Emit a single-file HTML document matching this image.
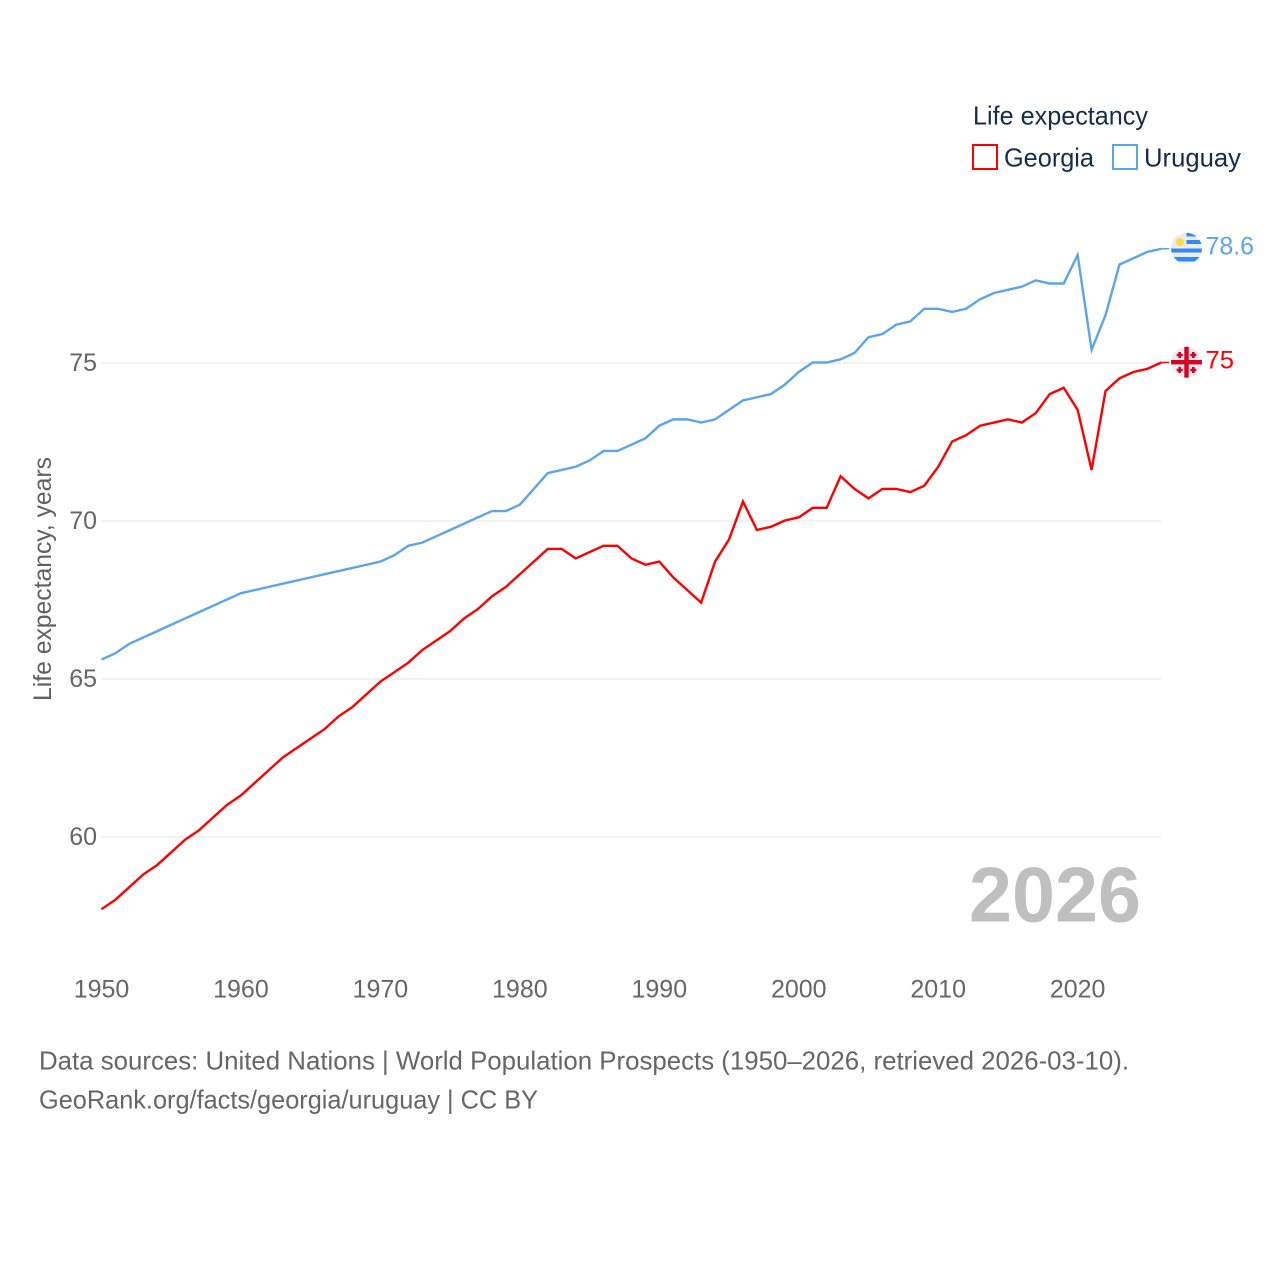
<!DOCTYPE html>
<html lang="en">
<head>
<meta charset="utf-8">
<title>Life expectancy: Georgia and Uruguay</title>
<style>
html,body{margin:0;padding:0;background:#fff;width:1280px;height:1280px;overflow:hidden}
svg{display:block}
text{font-family:"Liberation Sans",sans-serif}
</style>
</head>
<body>
<svg id="chart" xmlns="http://www.w3.org/2000/svg" width="1280" height="1280" viewBox="0 0 1280 1280">
  <defs>
    <clipPath id="flag-clip-uy"><circle cx="1186.5" cy="248.3" r="15.5"/></clipPath>
    <clipPath id="flag-clip-ge"><circle cx="1186.5" cy="362.3" r="15.5"/></clipPath>
  </defs>
  <g id="grid"></g>
  <g id="yticks"></g>
  <g id="xticks"></g>
  <text transform="translate(51 701) rotate(-90)" font-size="25" fill="#616161" textLength="244" lengthAdjust="spacingAndGlyphs">Life expectancy, years</text>
  <g id="series" transform="translate(0 -0.5)"></g>

  <g>
    <text x="973" y="124.5" font-size="26" fill="#152c4d" textLength="175" lengthAdjust="spacingAndGlyphs">Life expectancy</text>
    <rect x="973" y="145" width="24" height="24" fill="#fff" stroke="#ff0000" stroke-width="2"/>
    <text x="1004" y="166.5" font-size="26" fill="#152c4d" textLength="90" lengthAdjust="spacingAndGlyphs">Georgia</text>
    <rect x="1113" y="145" width="24" height="24" fill="#fff" stroke="#5ba4ee" stroke-width="2"/>
    <text x="1144" y="166.5" font-size="26" fill="#152c4d" textLength="97" lengthAdjust="spacingAndGlyphs">Uruguay</text>
  </g>

  <g clip-path="url(#flag-clip-uy)">
    <rect x="1170" y="232" width="33" height="33" fill="#ececec"/>
    <rect x="1186.5" y="232" width="17" height="4.5" fill="#338af3"/>
    <rect x="1186.5" y="240" width="17" height="4" fill="#338af3"/>
    <rect x="1170" y="248.5" width="33" height="4" fill="#338af3"/>
    <rect x="1170" y="257" width="33" height="4.5" fill="#338af3"/>
    <circle cx="1180" cy="242" r="4" fill="#ffda44"/>
  </g>
  <g clip-path="url(#flag-clip-ge)">
    <rect x="1170" y="346" width="33" height="33" fill="#ececec"/>
    <rect x="1184.3" y="346" width="4.4" height="33" fill="#d80027"/>
    <rect x="1170" y="360" width="33" height="4.4" fill="#d80027"/>
    <path fill="none" stroke="#d80027" stroke-width="2.6" d="M1176.700 355h6M1179.700 352v6M1190.300 355h6M1193.300 352v6M1176.700 370h6M1179.700 367v6M1190.300 370h6M1193.300 367v6"/>
  </g>
  <text x="1205.5" y="254.5" font-size="25" fill="#5ba4ee" textLength="48.5" lengthAdjust="spacingAndGlyphs">78.6</text>
  <text x="1205.5" y="368.5" font-size="25" fill="#ff0000" textLength="28.5" lengthAdjust="spacingAndGlyphs">75</text>

  <text x="969" y="921.5" font-size="78" font-weight="700" fill="#bfbfbf" textLength="172" lengthAdjust="spacingAndGlyphs">2026</text>

  <text x="39" y="1069.5" font-size="26" fill="#666666" textLength="1090" lengthAdjust="spacingAndGlyphs">Data sources: United Nations | World Population Prospects (1950–2026, retrieved 2026-03-10).</text>
  <text x="39" y="1108.5" font-size="26" fill="#666666" textLength="499" lengthAdjust="spacingAndGlyphs">GeoRank.org/facts/georgia/uruguay | CC BY</text>
</svg>
<script>
const years = [1950,1951,1952,1953,1954,1955,1956,1957,1958,1959,1960,1961,1962,1963,1964,1965,1966,1967,1968,1969,1970,1971,1972,1973,1974,1975,1976,1977,1978,1979,1980,1981,1982,1983,1984,1985,1986,1987,1988,1989,1990,1991,1992,1993,1994,1995,1996,1997,1998,1999,2000,2001,2002,2003,2004,2005,2006,2007,2008,2009,2010,2011,2012,2013,2014,2015,2016,2017,2018,2019,2020,2021,2022,2023,2024,2025,2026];
const georgia = [57.7,58.0,58.4,58.8,59.1,59.5,59.9,60.2,60.6,61.0,61.3,61.7,62.1,62.5,62.8,63.1,63.4,63.8,64.1,64.5,64.9,65.2,65.5,65.9,66.2,66.5,66.9,67.2,67.6,67.9,68.3,68.7,69.1,69.1,68.8,69.0,69.2,69.2,68.8,68.6,68.7,68.2,67.8,67.4,68.7,69.4,70.6,69.7,69.8,70.0,70.1,70.4,70.4,71.4,71.0,70.7,71.0,71.0,70.9,71.1,71.7,72.5,72.7,73.0,73.1,73.2,73.1,73.4,74.0,74.2,73.5,71.6,74.1,74.5,74.7,74.8,75.0];
const uruguay = [65.6,65.8,66.1,66.3,66.5,66.7,66.9,67.1,67.3,67.5,67.7,67.8,67.9,68.0,68.1,68.2,68.3,68.4,68.5,68.6,68.7,68.9,69.2,69.3,69.5,69.7,69.9,70.1,70.3,70.3,70.5,71.0,71.5,71.6,71.7,71.9,72.2,72.2,72.4,72.6,73.0,73.2,73.2,73.1,73.2,73.5,73.8,73.9,74.0,74.3,74.7,75.0,75.0,75.1,75.3,75.8,75.9,76.2,76.3,76.7,76.7,76.6,76.7,77.0,77.2,77.3,77.4,77.6,77.5,77.5,78.4,75.4,76.5,78.1,78.3,78.5,78.6];
const xTickLabels = [1950,1960,1970,1980,1990,2000,2010,2020];
const yTickLabels = [60,65,70,75];

const SVG_NS = 'http://www.w3.org/2000/svg';
function xScale(year) { return 101.5 + (year - 1950) * 13.945; }
function yScale(value) { return 837 - (value - 60) * 31.6; }

const gridGroup = document.getElementById('grid');
const yTickGroup = document.getElementById('yticks');
const xTickGroup = document.getElementById('xticks');
const seriesGroup = document.getElementById('series');

yTickLabels.forEach(function (tick) {
  const line = document.createElementNS(SVG_NS, 'line');
  
  
  line.setAttribute('x1', xScale(1950));
  line.setAttribute('x2', xScale(2026));
  line.setAttribute('y1', yScale(tick));
  line.setAttribute('y2', yScale(tick));
  line.setAttribute('stroke', '#eeeeee');
  line.setAttribute('stroke-width', '1.5');
  gridGroup.appendChild(line);

  const label = document.createElementNS(SVG_NS, 'text');
  
  
  label.setAttribute('x', 97);
  label.setAttribute('y', yScale(tick) + 8);
  label.setAttribute('text-anchor', 'end');
  label.setAttribute('font-size', '25');
  label.setAttribute('fill', '#666666');
  label.textContent = tick;
  yTickGroup.appendChild(label);
});

xTickLabels.forEach(function (tick) {
  const label = document.createElementNS(SVG_NS, 'text');
  
  
  label.setAttribute('x', xScale(tick));
  label.setAttribute('y', 997.5);
  label.setAttribute('text-anchor', 'middle');
  label.setAttribute('font-size', '25');
  label.setAttribute('fill', '#666666');
  label.textContent = tick;
  xTickGroup.appendChild(label);
});

function drawSeries(values, color, name) {
  const points = values.map(function (v, i) {
    return xScale(years[i]).toFixed(2) + ',' + yScale(v).toFixed(2);
  });
  const lastY = yScale(values[values.length - 1]);
  const lastX = xScale(years[years.length - 1]);

  const line = document.createElementNS(SVG_NS, 'polyline');
  
  
  line.setAttribute('points', points.join(' '));
  line.setAttribute('fill', 'none');
  line.setAttribute('stroke', color);
  line.setAttribute('stroke-width', '2.4');
  line.setAttribute('stroke-linejoin', 'miter');
  seriesGroup.appendChild(line);

  const connector = document.createElementNS(SVG_NS, 'line');
  
  
  connector.setAttribute('x1', lastX);
  connector.setAttribute('x2', lastX + 8);
  connector.setAttribute('y1', lastY);
  connector.setAttribute('y2', lastY);
  connector.setAttribute('stroke', color);
  connector.setAttribute('stroke-width', '1.5');
  seriesGroup.appendChild(connector);
}

drawSeries(georgia, '#ff0000', 'georgia');
drawSeries(uruguay, '#5ba4ee', 'uruguay');
</script>
</body>
</html>
